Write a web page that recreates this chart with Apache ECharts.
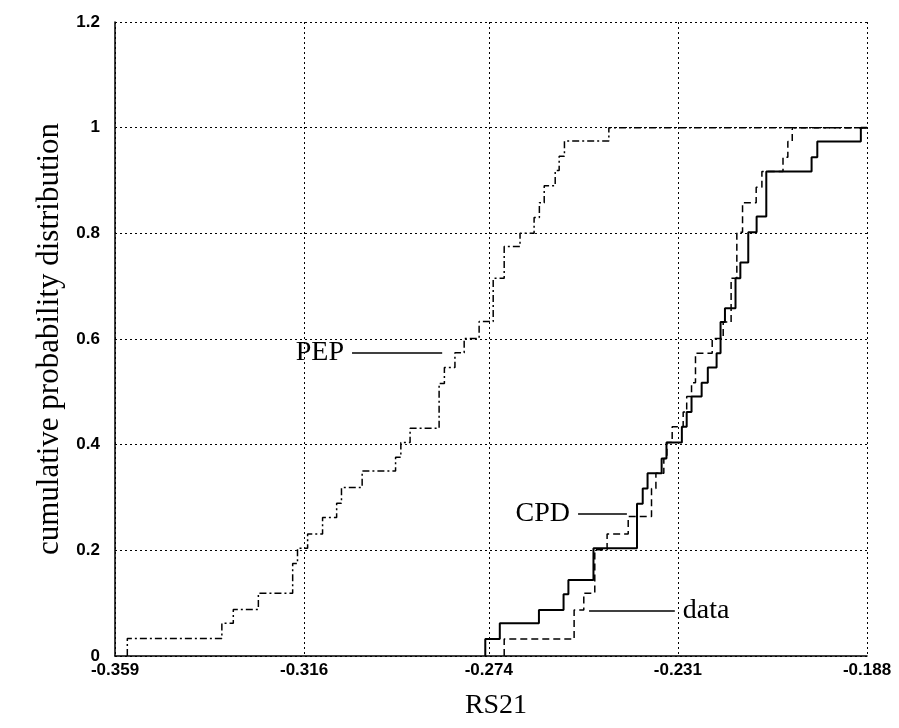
<!DOCTYPE html>
<html><head><meta charset="utf-8">
<script src="https://cdn.jsdelivr.net/npm/echarts@6/dist/echarts.min.js"></script>
<style>html,body{margin:0;padding:0;background:#fff}#c{width:899px;height:728px}</style>
</head><body><div id="c"></div>
<script>
// Tick values
const xTicks = [-0.359, -0.316, -0.274, -0.231, -0.188];
const yTicks = [0, 0.2, 0.4, 0.6, 0.8, 1, 1.2];

// PEP (dash-dot) step curve: x where the step rises, level after the rise
const pepX = [-0.3562, -0.3347, -0.3321, -0.3264, -0.3186, -0.3175, -0.3152, -0.3118, -0.3086, -0.3075,
              -0.3028, -0.2952, -0.2940, -0.2919, -0.2853, -0.2841, -0.2817, -0.2796, -0.2762, -0.2730,
              -0.2705, -0.2669, -0.2637, -0.2625, -0.2614, -0.2589, -0.2580, -0.2568, -0.2467];
const pepY = [0.033, 0.062, 0.088, 0.119, 0.175, 0.204, 0.231, 0.262, 0.289, 0.319,
              0.350, 0.376, 0.404, 0.431, 0.516, 0.546, 0.574, 0.601, 0.633, 0.715,
              0.775, 0.800, 0.830, 0.858, 0.890, 0.919, 0.946, 0.975, 1.000];

// CPD (solid) step curve
const cpdX = [-0.2748, -0.2715, -0.2626, -0.2570, -0.2559, -0.2502, -0.2403, -0.2390, -0.2379, -0.2347,
              -0.2336, -0.2301, -0.2290, -0.2279, -0.2256, -0.2242, -0.2222, -0.2213, -0.2203, -0.2179,
              -0.2168, -0.2150, -0.2131, -0.2109, -0.2006, -0.1993, -0.1894];
const cpdY = [0.032, 0.062, 0.087, 0.117, 0.144, 0.204, 0.288, 0.317, 0.346, 0.374,
              0.404, 0.434, 0.462, 0.491, 0.517, 0.546, 0.573, 0.632, 0.658, 0.715,
              0.745, 0.802, 0.832, 0.917, 0.944, 0.974, 1.000];

// data (dashed) step curve
const dataX = [-0.2705, -0.2546, -0.2524, -0.2499, -0.2471, -0.2423, -0.2370, -0.2360, -0.2342, -0.2335,
               -0.2323, -0.2298, -0.2290, -0.2279, -0.2270, -0.2232, -0.2207, -0.2189, -0.2176, -0.2163,
               -0.2132, -0.2119, -0.2071, -0.2060, -0.2050];
const dataY = [0.032, 0.087, 0.119, 0.201, 0.231, 0.264, 0.317, 0.346, 0.374, 0.404,
               0.434, 0.462, 0.491, 0.517, 0.573, 0.601, 0.632, 0.715, 0.802, 0.858,
               0.887, 0.917, 0.944, 0.974, 1.000];

// Annotation pointers (data coordinates): [xStart, xEnd, y]
const pepNote = [-0.3051, -0.2846, 0.5735];
const cpdNote = [-0.2537, -0.2426, 0.269];
const dataNote = [-0.2512, -0.2317, 0.085];

const xMin = xTicks[0], xMax = xTicks[xTicks.length - 1];

function stepData(xs, ys) {
  const d = [[xs[0], 0]];
  for (let i = 0; i < xs.length; i++) d.push([xs[i], ys[i]]);
  d.push([xMax, ys[ys.length - 1]]);
  return d;
}

const noteFont = { fontFamily: 'Liberation Serif', fontSize: 28, color: '#000' };
function note(n, text, pos) {
  return {
    silent: true, symbol: ['none', 'none'], animation: false,
    lineStyle: { type: 'solid', color: '#000', width: 1.5 },
    label: Object.assign({ show: true, position: pos, formatter: text, distance: 8 }, noteFont),
    emphasis: { disabled: true },
    data: [[{ coord: [n[0], n[2]] }, { coord: [n[1], n[2]] }]]
  };
}

const tickFont = { fontFamily: 'Liberation Sans', fontWeight: 'bold', fontSize: 17, color: '#000' };

const chart = echarts.init(document.getElementById('c'), null, { renderer: 'canvas' });
chart.setOption({
  animation: false,
  backgroundColor: '#fff',
  grid: { left: 115, right: 32, top: 22, bottom: 72, containLabel: false },
  xAxis: {
    type: 'value', min: xMin, max: xMax,
    name: 'RS21', nameLocation: 'middle', nameGap: 36,
    nameTextStyle: { fontFamily: 'Liberation Serif', fontSize: 28, color: '#000', padding: [0, 0, 0, 10] },
    axisLine: { show: true, onZero: false, lineStyle: { color: '#000', width: 1.5 } },
    axisTick: { show: false, customValues: xTicks },
    axisLabel: Object.assign({ customValues: xTicks, formatter: v => v.toFixed(3), margin: 6 }, tickFont),
    splitLine: { show: true, lineStyle: { color: '#000', type: [2, 3], width: 1 } }
  },
  yAxis: {
    type: 'value', min: yTicks[0], max: yTicks[yTicks.length - 1], interval: 0.2,
    name: 'cumulative probability distribution', nameLocation: 'middle', nameGap: 48, nameRotate: 90,
    nameTextStyle: { fontFamily: 'Liberation Serif', fontSize: 31, color: '#000' },
    axisLine: { show: true, onZero: false, lineStyle: { color: '#000', width: 1.5 } },
    axisTick: { show: false },
    axisLabel: Object.assign({ formatter: v => String(Number(v.toFixed(1))), margin: 15 }, tickFont),
    splitLine: { show: true, lineStyle: { color: '#000', type: [2, 3], width: 1 } }
  },
  series: [
    { name: 'PEP', type: 'line', step: 'end', symbol: 'none', data: stepData(pepX, pepY),
      lineStyle: { color: '#000', width: 1.5, type: [7, 3, 2, 3] }, markLine: note(pepNote, 'PEP', 'start') },
    { name: 'CPD', type: 'line', step: 'end', symbol: 'none', data: stepData(cpdX, cpdY),
      lineStyle: { color: '#000', width: 2, type: 'solid' }, markLine: note(cpdNote, 'CPD', 'start') },
    { name: 'data', type: 'line', step: 'end', symbol: 'none', data: stepData(dataX, dataY),
      lineStyle: { color: '#000', width: 1.5, type: [7, 4] }, markLine: note(dataNote, 'data', 'end') }
  ]
});
</script>
</body></html>
